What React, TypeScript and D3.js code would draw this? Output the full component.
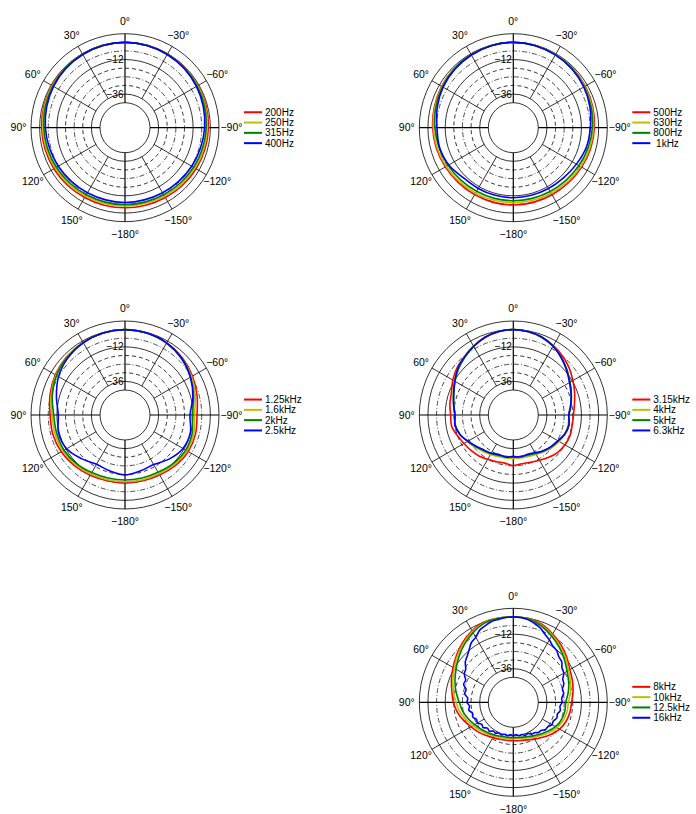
import React from "react";
import * as d3 from "d3";

// ---------- grid / tick definitions ----------
const angleTicks = [0, 30, 60, 90, 120, 150, 180, 210, 240, 270, 300, 330];
const angleTickLabels = ["0°", "30°", "60°", "90°", "120°", "150°", "−180°", "−150°", "−120°", "−90°", "−60°", "−30°"];
const ringLevels = [6, 0, -6, -12, -18, -24, -30, -36, -42];
const ringKinds = ["solid", "solid", "dashdot", "solid", "dashed", "dashdot", "dashed", "solid", "solid"];
const radialTickLevels = [-12, -36];
const radialTickLabels = ["−12", "−36"];
const dbDomain = [-42, 6];

const seriesColors = ["#ff0000", "#bfbf00", "#008000", "#0000ff"];

// ---------- panel 1 (15° steps, counter-clockwise from 0°) ----------
const labels1 = ["200Hz", "250Hz", "315Hz", "400Hz"];
const db200 = [0, -0.1, -0.2, -0.4, -0.7, -1.0, -1.4, -1.8, -2.3, -2.8, -3.3, -3.6, -3.7, -3.6, -3.3, -2.8, -2.3, -1.8, -1.4, -1.0, -0.7, -0.4, -0.2, -0.1];
const db250 = [0, -0.1, -0.3, -0.6, -1.0, -1.5, -2.1, -2.7, -3.3, -3.9, -4.4, -4.8, -4.9, -4.8, -4.4, -3.9, -3.3, -2.7, -2.1, -1.5, -1.0, -0.6, -0.3, -0.1];
const db315 = [0, -0.1, -0.4, -0.8, -1.4, -2.1, -2.9, -3.6, -4.3, -5.0, -5.5, -5.8, -5.9, -5.8, -5.5, -5.0, -4.3, -3.6, -2.9, -2.1, -1.4, -0.8, -0.4, -0.1];
const db400 = [0, -0.2, -0.6, -1.2, -2.0, -3.0, -4.0, -5.0, -5.8, -6.6, -7.1, -7.4, -7.4, -7.4, -7.1, -6.6, -5.8, -5.0, -4.0, -3.0, -2.0, -1.2, -0.6, -0.2];

// ---------- panel 2 ----------
const labels2 = ["500Hz", "630Hz", "800Hz", "\u00A01kHz"];
const db500 = [0, -0.2, -0.6, -1.1, -1.8, -2.6, -3.3, -4.0, -4.8, -5.4, -5.6, -5.6, -5.6, -5.6, -5.5, -5.2, -4.5, -3.7, -3.0, -2.3, -1.6, -1.0, -0.5, -0.1];
const db630 = [0, -0.2, -0.7, -1.3, -2.1, -3.0, -3.8, -4.6, -5.5, -6.3, -6.8, -7.1, -7.2, -7.1, -6.8, -6.2, -5.3, -4.4, -3.6, -2.8, -2.0, -1.2, -0.6, -0.2];
const db800 = [0, -0.2, -0.8, -1.5, -2.5, -3.6, -4.9, -5.9, -7.0, -7.8, -8.3, -8.5, -8.6, -8.5, -8.2, -7.6, -6.7, -5.5, -4.4, -3.4, -2.4, -1.5, -0.7, -0.2];
const db1k = [0, -0.3, -1.0, -1.9, -3.0, -4.6, -6.3, -6.3, -7.6, -10.2, -10.6, -10.7, -10.7, -10.7, -10.5, -10.0, -8.7, -6.8, -5.8, -4.2, -2.8, -1.7, -0.9, -0.3];

// ---------- panel 3 ----------
const labels3 = ["1.25kHz", "1.6kHz", "2kHz", "2.5kHz"];
const db1250 = [0, -0.3, -1.0, -2.0, -3.4, -5.4, -7.3, -7.4, -8.2, -9.6, -11.0, -12.0, -12.3, -12.0, -11.2, -9.8, -8.6, -8.6, -9.3, -7.5, -5.2, -3.0, -1.4, -0.4];
const db1600 = [0, -0.3, -1.1, -2.3, -3.9, -6.2, -8.6, -9.0, -9.4, -10.6, -12.0, -12.8, -13.0, -12.8, -12.2, -10.8, -9.6, -9.8, -11.0, -8.8, -6.0, -3.5, -1.6, -0.4];
const db2000 = [0, -0.3, -1.2, -2.6, -4.4, -7.0, -9.8, -10.2, -10.4, -11.6, -13.2, -14.0, -14.2, -14.0, -13.4, -11.8, -10.6, -11.0, -12.6, -10.0, -6.8, -3.9, -1.7, -0.4];
const db2500 = [0, -0.4, -1.4, -3.2, -6.0, -10.0, -13.0, -11.5, -12.5, -16.5, -19.8, -19.0, -17.7, -19.0, -19.6, -16.0, -12.8, -12.3, -14.2, -10.5, -6.8, -3.6, -1.5, -0.4];

// ---------- panel 4 (10° steps) ----------
const labels4 = ["3.15kHz", "4kHz", "5kHz", "6.3kHz"];
const db3150 = [0, -0.5, -2.0, -4.0, -6.4, -8.3, -10.8, -13.6, -14.6, -15.8, -15.8, -17.9, -19.8, -21.0, -22.2, -23.8, -24.8, -25.4, -24.2, -25.0, -24.4, -23.0, -21.0, -19.0, -17.9, -17.4, -17.8, -17.5, -16.2, -14.0, -11.5, -8.6, -6.0, -3.6, -1.8, -0.5];
const db4000 = [0, -0.4, -1.8, -4.0, -6.4, -9.0, -12.0, -15.0, -17.2, -18.8, -18.6, -20.0, -22.4, -24.6, -26.4, -27.6, -28.6, -29.0, -29.2, -29.0, -28.6, -27.6, -26.0, -24.2, -22.6, -21.2, -20.6, -20.8, -19.0, -16.8, -14.0, -10.6, -7.2, -4.0, -1.6, -0.4];
const db5000 = [0, -0.4, -1.9, -4.4, -7.0, -9.6, -12.6, -15.4, -17.4, -18.8, -18.4, -20.0, -22.8, -25.2, -27.2, -28.4, -29.4, -30.2, -30.0, -30.2, -29.6, -28.4, -26.6, -24.8, -23.2, -21.0, -20.2, -20.6, -18.6, -16.4, -13.8, -10.6, -7.4, -4.2, -1.8, -0.4];
const db6300 = [0, -0.4, -1.8, -4.2, -6.6, -9.0, -12.4, -15.2, -17.2, -18.8, -18.2, -19.8, -23.0, -25.6, -27.6, -28.6, -30.2, -29.6, -30.6, -29.8, -30.4, -29.0, -27.0, -25.2, -23.6, -21.2, -20.0, -20.8, -18.8, -16.6, -14.2, -11.0, -7.4, -4.0, -1.6, -0.4];

// ---------- panel 5 ----------
const labels5 = ["8kHz", "10kHz", "12.5kHz", "16kHz"];
const db8000 = [0, 0.2, 0, -2.0, -4.8, -8.0, -11.0, -13.6, -16.0, -17.7, -19.8, -22.6, -25.4, -27.4, -29.4, -31.0, -32.0, -32.6, -32.7, -32.4, -31.6, -29.8, -27.6, -24.8, -22.2, -20.4, -19.4, -18.8, -17.2, -15.6, -14.0, -10.8, -7.6, -4.6, -1.6, 0];
const db10000 = [0, 0.1, -0.4, -2.6, -5.6, -8.8, -12.0, -14.6, -17.2, -19.5, -21.6, -24.4, -27.0, -29.0, -30.8, -32.4, -33.4, -34.0, -34.0, -33.8, -33.0, -31.4, -29.2, -26.6, -24.2, -22.4, -21.4, -21.1, -19.0, -17.0, -15.0, -11.8, -8.6, -5.4, -2.2, -0.2];
const db12500 = [0, 0, -0.8, -3.4, -6.6, -10.0, -13.4, -16.2, -19.0, -21.8, -23.6, -26.0, -28.4, -30.2, -31.8, -33.2, -34.2, -34.7, -34.8, -34.6, -33.8, -32.4, -30.4, -28.0, -25.6, -23.8, -23.0, -22.9, -20.6, -18.4, -16.2, -13.0, -9.6, -6.2, -2.8, -0.4];
const db16000 = [0, -0.2, -0.8, -1.2, -2.6, -4.0, -7.2, -8.6, -11.6, -14.0, -15.8, -19.0, -20.0, -22.8, -22.6, -25.4, -25.0, -27.6, -27.2, -28.8, -28.0, -30.0, -29.4, -31.2, -30.6, -32.6, -32.0, -34.0, -33.2, -35.0, -34.6, -35.8, -35.2, -36.4, -35.8, -36.8, -36.2, -36.8, -35.8, -36.2, -35.0, -35.4, -33.8, -33.6, -32.0, -31.8, -30.0, -30.0, -28.4, -28.6, -27.2, -27.6, -26.2, -26.8, -25.4, -25.6, -23.8, -24.0, -22.0, -21.4, -18.8, -18.0, -15.4, -14.6, -12.4, -11.6, -9.2, -7.2, -4.4, -2.6, -1.0, -0.2];

const panels = [
  { labels: labels1, series: [db200, db250, db315, db400] },
  { labels: labels2, series: [db500, db630, db800, db1k] },
  { labels: labels3, series: [db1250, db1600, db2000, db2500] },
  { labels: labels4, series: [db3150, db4000, db5000, db6300] },
  { labels: labels5, series: [db8000, db10000, db12500, db16000] },
];

// ---------- layout ----------
const W = 696;
const H = 814;
const colX = [125, 513.3];
const rowY = [127.7, 415, 702.3];
const slots = [[0, 0], [1, 0], [0, 1], [1, 1], [1, 2]];
const R_IN = 25;
const R_OUT = 94;
const FONT = "'Liberation Sans', Arial, Helvetica, sans-serif";

const rScale = d3.scaleLinear().domain(dbDomain).range([R_IN, R_OUT]);
const toRad = (deg: number) => (deg * Math.PI) / 180;

function dashFor(kind: string) {
  if (kind === "dashed") return "4,3";
  if (kind === "dashdot") return "5,2,1,2";
  return undefined;
}

function Polar({ cx, cy, labels, series }: { cx: number; cy: number; labels: string[]; series: number[][] }) {
  const makePath = (vals: number[]) => {
    const step = 360 / vals.length;
    const gen = d3
      .lineRadial<number>()
      .angle((_, i) => -toRad(i * step))
      .radius((d) => rScale(Math.max(dbDomain[0], d)))
      .curve(d3.curveCatmullRomClosed.alpha(0.5));
    return gen(vals) || "";
  };
  const labelR = 106.5;
  return (
    <g transform={`translate(${cx},${cy})`}>
      <circle r={R_IN} fill="#fff" />
      {ringLevels.map((lv, i) => (
        <circle
          key={"r" + i}
          r={rScale(lv)}
          fill="none"
          stroke={ringKinds[i] === "dashdot" ? "#222" : "#000"}
          strokeWidth={0.8}
          strokeDasharray={dashFor(ringKinds[i])}
        />
      ))}
      {angleTicks.map((a, i) => {
        const main = a % 90 === 0;
        const r0 = main ? rScale(-42) : rScale(-36);
        const r1 = rScale(6);
        const s = Math.sin(toRad(a));
        const c = Math.cos(toRad(a));
        return (
          <line
            key={"s" + i}
            x1={-r0 * s}
            y1={-r0 * c}
            x2={-r1 * s}
            y2={-r1 * c}
            stroke="#000"
            strokeWidth={main ? 1.2 : 0.8}
          />
        );
      })}
      {angleTicks.map((a, i) => (
        <text
          key={"t" + i}
          x={-labelR * Math.sin(toRad(a))}
          y={-labelR * Math.cos(toRad(a))}
          dy="0.36em"
          textAnchor="middle"
          fontSize={10.5}
          fontFamily={FONT}
          fill="#000"
        >
          {angleTickLabels[i]}
        </text>
      ))}
      {radialTickLevels.map((lv, i) => (
        <text
          key={"rl" + i}
          x={-1.5}
          y={-rScale(lv)}
          dy="0.36em"
          textAnchor="end"
          fontSize={10}
          fontFamily={FONT}
          fill="#000"
        >
          {radialTickLabels[i]}
        </text>
      ))}
      {series.map((vals, i) => (
        <path key={"p" + i} d={makePath(vals)} fill="none" stroke={seriesColors[i]} strokeWidth={1.6} />
      ))}
      {labels.map((lab, i) => {
        const y = (i - 1.5) * 10.3;
        return (
          <g key={"l" + i}>
            <line x1={119} x2={137} y1={y} y2={y} stroke={seriesColors[i]} strokeWidth={2} />
            <text x={140} y={y} dy="0.36em" fontSize={10} fontFamily={FONT} fill="#000">
              {lab}
            </text>
          </g>
        );
      })}
    </g>
  );
}

export default function App() {
  return (
    <svg
      width={W}
      height={H}
      viewBox={`0 0 ${W} ${H}`}
      style={{ position: "absolute", left: 0, top: 0, background: "#fff" }}
    >
      <rect width={W} height={H} fill="#fff" />
      {panels.map((p, i) => (
        <Polar key={i} cx={colX[slots[i][0]]} cy={rowY[slots[i][1]]} labels={p.labels} series={p.series} />
      ))}
    </svg>
  );
}
